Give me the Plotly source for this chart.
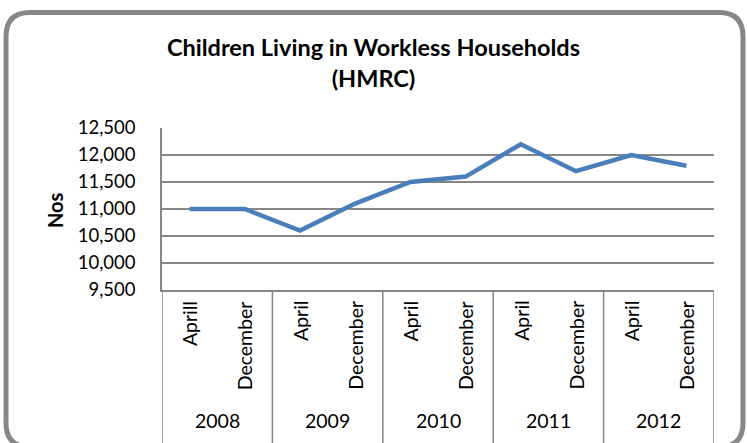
import plotly.graph_objects as go

years = ["2008", "2009", "2010", "2011", "2012"]
months = ["Aprill", "December", "April", "December", "April", "December",
          "April", "December", "April", "December"]
children = [11000, 11000, 10600, 11100, 11500, 11600, 12200, 11700, 12000, 11800]

W, H = 747, 443
L, R, T, B = 162, 714, 128, 290


def px(x):
    return (x - L) / (R - L)


def py(y):
    return (B - y) / (B - T)


pos = list(range(len(months)))

# rounded outer frame (Excel chart area border)
x0, x1, y0, y1, r = 6, 743, 12.5, 447, 24
frame = (
    f"M {px(x0)},{py(y0 + r)} "
    f"Q {px(x0)},{py(y0)} {px(x0 + r)},{py(y0)} "
    f"L {px(x1 - r)},{py(y0)} "
    f"Q {px(x1)},{py(y0)} {px(x1)},{py(y0 + r)} "
    f"L {px(x1)},{py(y1 - r)} "
    f"Q {px(x1)},{py(y1)} {px(x1 - r)},{py(y1)} "
    f"L {px(x0 + r)},{py(y1)} "
    f"Q {px(x0)},{py(y1)} {px(x0)},{py(y1 - r)} Z"
)

shapes = [
    dict(type="path", xref="paper", yref="paper", path=frame,
         line=dict(color="#878787", width=5), layer="above")
]
# year dividers below the plot
for i in range(len(years) + 1):
    shapes.append(dict(type="line", xref="x", yref="paper",
                       x0=2 * i - 0.5, x1=2 * i - 0.5, y0=0, y1=py(H + 5),
                       line=dict(color="#868686", width=1.5)))

annotations = []
for i, m in enumerate(months):
    annotations.append(dict(x=pos[i], y=py(B + 9), xref="x", yref="paper",
                            text=m, textangle=-90, showarrow=False,
                            xanchor="center", yanchor="top",
                            font=dict(size=19.5)))
for j, yr in enumerate(years):
    annotations.append(dict(x=2 * j + 0.5, y=py(420), xref="x", yref="paper",
                            text=yr, showarrow=False,
                            xanchor="center", yanchor="middle",
                            font=dict(size=19.5)))
annotations.append(dict(x=px(55), y=py(210), xref="paper", yref="paper",
                        text="<b>Nos</b>", textangle=-90, showarrow=False,
                        xanchor="center", yanchor="middle",
                        font=dict(size=20)))

fig = go.Figure()
fig.add_trace(
    go.Scatter(
        x=pos,
        y=children,
        mode="lines",
        line=dict(color="#4a7ebb", width=4.5),
        showlegend=False,
        hoverinfo="skip",
    )
)

fig.update_layout(
    width=W,
    height=H,
    margin=dict(l=L, r=W - R, t=T, b=H - B, autoexpand=False),
    paper_bgcolor="white",
    plot_bgcolor="white",
    font=dict(family="Lato", color="black", size=18.5),
    title=dict(
        text="<b>Children Living in Workless Households<br>(HMRC)</b>",
        x=0.5,
        xanchor="center",
        xref="container",
        y=1 - 56 / H,
        yanchor="top",
        font=dict(size=23.5, family="Lato"),
    ),
    xaxis=dict(
        range=[-0.5, 9.5],
        showticklabels=False,
        showgrid=False,
        showline=True,
        linecolor="#868686",
        linewidth=1.5,
        zeroline=False,
        ticks="",
    ),
    yaxis=dict(
        range=[9500, 12500],
        dtick=500,
        tickformat=",",
        showgrid=True,
        gridcolor="#868686",
        gridwidth=1.5,
        showline=True,
        linecolor="#868686",
        linewidth=1.5,
        zeroline=False,
        ticks="",
        ticklabelstandoff=21,
        tickfont=dict(size=18.5),
    ),
    shapes=shapes,
    annotations=annotations,
)

# drop the browser's default body margin so the figure sits at (0, 0)
fig.write_html(
    "out.html",
    config={"displayModeBar": False},
    post_script="document.body.style.margin='0';",
)
